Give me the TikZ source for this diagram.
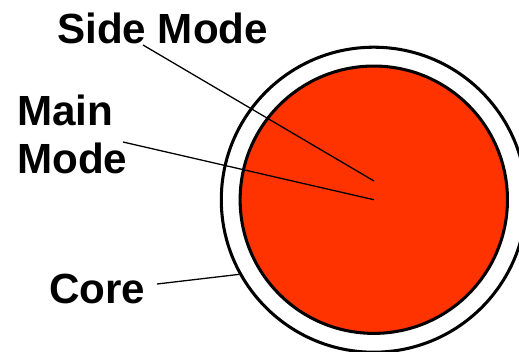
\documentclass[tikz,border=0pt]{standalone}
\usepackage{fontspec}
\setmainfont{Liberation Sans}
\usetikzlibrary{calc}
\definecolor{modered}{RGB}{255,51,0}

\tikzset{
  modelabel/.style={font=\fontsize{36}{40.8}\selectfont\bfseries, inner sep=0pt, align=left},
  pointer/.style={line width=1.1pt},
  ring/.style={circle, draw, line width=2.6pt, inner sep=0pt}
}

\begin{document}
\begin{tikzpicture}[x=0.03cm, y=-0.03cm]
  \clip (0,0) rectangle (519,351);

  % Fibre cross section
  \node[ring, minimum size=9.15cm] (clad) at (373.8,199.7) {};
  \node[ring, fill=modered, minimum size=8.02cm] (core) at (373.8,199.7) {};
  \coordinate (sidetip) at (374,181);

  % Labels
  \node[modelabel, anchor=base west] (side) at (57,43) {Side Mode};
  \node[modelabel, anchor=base west] (main) at (17,173) {Main\\Mode};
  \node[modelabel, anchor=base west] (corelbl) at (49,303) {Core};

  % Pointers
  \draw[pointer] ($(side.base west)+(86,2)$) -- (sidetip);
  \draw[pointer] ($(main.base west)+(106,-31)$) -- (core.center);
  \draw[pointer] ($(corelbl.base west)+(108,-19)$) -- (clad.209.6);
\end{tikzpicture}
\end{document}
